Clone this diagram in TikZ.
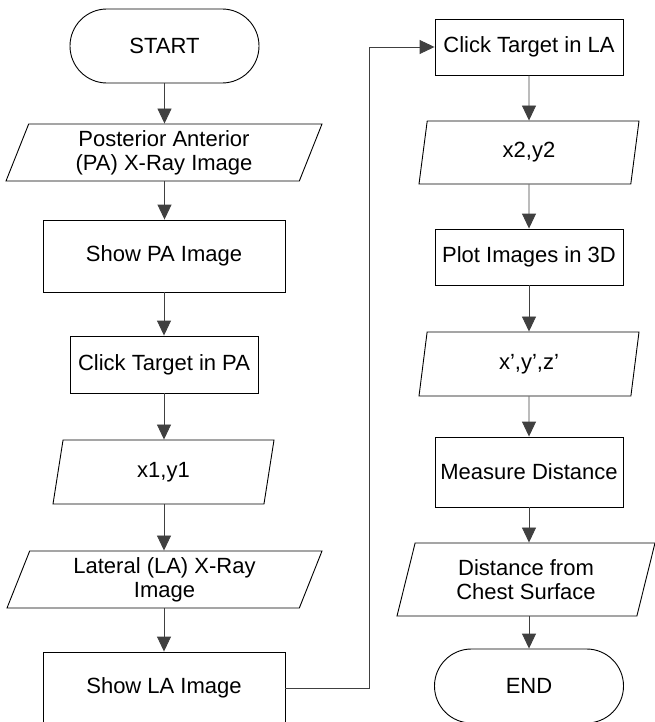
\documentclass[tikz,border=0pt]{standalone}
\usepackage{fontspec}
\setmainfont{Liberation Sans}
\usetikzlibrary{shapes.geometric,arrows.meta}
\begin{document}
\begin{tikzpicture}[x=1pt,y=-1pt,
  every node/.style={font=\fontsize{22}{24}\selectfont, align=center, inner sep=0pt},
  term/.style={draw, rectangle, rounded corners=36.9pt, minimum width=189pt, minimum height=74pt, line width=0.9pt},
  proc/.style={draw, rectangle, line width=0.9pt},
  io/.style={draw, trapezium, trapezium left angle=#1, trapezium right angle=180-#1, trapezium stretches body, line width=0.9pt},
  flow/.style={draw=black!75, line width=0.9pt, -{Triangle[width=14pt,length=15pt]}}
]
\useasboundingbox (0,0) rectangle (655,722);
% left column
\node[term] (start) at (164.5,46) {START};
\node[io=63, minimum width=316pt, minimum height=57pt] (pa) at (164,152.5) {Posterior Anterior\\(PA) X-Ray Image};
\node[proc, minimum width=242pt, minimum height=72pt] (showpa) at (164,256) {Show PA Image};
\node[proc, minimum width=188pt, minimum height=57pt] (clickpa) at (164,364.5) {Click Target in PA};
\node[io=63, minimum width=221pt, minimum height=64pt] (xy1) at (163.5,472) {x1,y1};
\node[io=63, minimum width=315pt, minimum height=57pt] (la) at (164.5,579.5) {Lateral (LA) X-Ray\\Image};
\node[proc, minimum width=242pt, minimum height=72pt] (showla) at (164,688) {Show LA Image};
% right column
\node[proc, minimum width=188pt, minimum height=56pt] (clickla) at (529,47) {Click Target in LA};
\node[io=67.6, minimum width=220pt, minimum height=63pt] (xy2) at (529,152.5) {x2,y2};
\node[proc, minimum width=188pt, minimum height=56pt] (plot) at (529,257) {Plot Images in 3D};
\node[io=67.6, minimum width=220pt, minimum height=64pt] (xyz) at (529,364) {x’,y’,z’};
\node[proc, minimum width=188pt, minimum height=70pt] (measure) at (529,472) {Measure Distance};
\node[io=65.7, minimum width=258pt, minimum height=73pt] (dist) at (526,579.5) {Distance from\\Chest Surface};
\node[term] (end) at (529,686) {END};
% connectors
\draw[flow] (start) -- (start.south |- pa.north);
\draw[flow] (start.south |- pa.south) -- (start.south |- showpa.north);
\draw[flow] (showpa) -- (clickpa);
\draw[flow] (clickpa) -- (clickpa.south |- xy1.north);
\draw[flow] (clickpa.south |- xy1.south) -- (clickpa.south |- la.north);
\draw[flow] (clickpa.south |- la.south) -- (showla);
\draw[flow] (showla.east) -- ++(84,0) |- (clickla.west);
\draw[flow] (clickla) -- (xy2);
\draw[flow] (xy2) -- (plot);
\draw[flow] (plot) -- (xyz);
\draw[flow] (xyz) -- (measure);
\draw[flow] (measure) -- (measure.south |- dist.north);
\draw[flow] (measure.south |- dist.south) -- (end);
\end{tikzpicture}
\end{document}
